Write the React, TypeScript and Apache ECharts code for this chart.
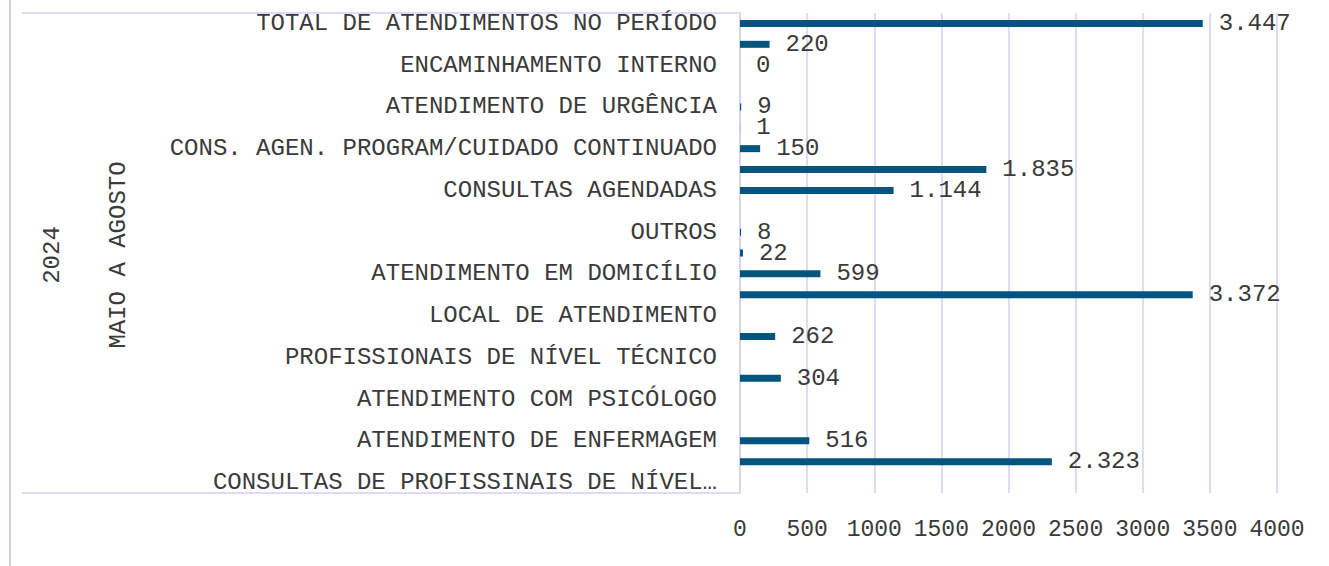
import React, { useEffect, useRef } from "react";
import * as echarts from "echarts";

const categories: string[] = [
  "TOTAL DE ATENDIMENTOS NO PERÍODO",
  "",
  "ENCAMINHAMENTO INTERNO",
  "",
  "ATENDIMENTO DE URGÊNCIA",
  "",
  "CONS. AGEN. PROGRAM/CUIDADO CONTINUADO",
  "",
  "CONSULTAS AGENDADAS",
  "",
  "OUTROS",
  "",
  "ATENDIMENTO EM DOMICÍLIO",
  "",
  "LOCAL DE ATENDIMENTO",
  "",
  "PROFISSIONAIS DE NÍVEL TÉCNICO",
  "",
  "ATENDIMENTO COM PSICÓLOGO",
  "",
  "ATENDIMENTO DE ENFERMAGEM",
  "",
  "CONSULTAS DE PROFISSINAIS DE NÍVEL SUPERIOR",
];

const values: (number | null)[] = [
  3447, 220, 0, null, 9, 1, 150, 1835, 1144, null, 8, 22, 599, 3372, null, 262,
  null, 304, null, null, 516, 2323, null,
];

const groupLabels = ["MAIO A AGOSTO", "2024"];

const X_MIN = 0;
const X_MAX = 4000;
const X_STEP = 500;

const FONT = "'Liberation Mono', 'Courier New', monospace";
const TEXT = "#3a3a3a";
const LINE = "#d3cfee";
const BAR = "#03547e";

function fmt(v: number): string {
  return String(v).replace(/\B(?=(\d{3})+(?!\d))/g, ".");
}

export default function App() {
  const ref = useRef<HTMLDivElement>(null);
  useEffect(() => {
    if (!ref.current) return;
    const chart = echarts.init(ref.current, undefined, { renderer: "svg" });
    chart.setOption({
      animation: false,
      backgroundColor: "#ffffff",
      grid: { left: 740, right: 52, top: 13, bottom: 73, containLabel: false },
      xAxis: {
        type: "value",
        min: X_MIN,
        max: X_MAX,
        interval: X_STEP,
        axisLine: { show: false },
        axisTick: { show: false },
        splitLine: { show: true, lineStyle: { color: LINE, width: 1.5 } },
        axisLabel: {
          fontFamily: FONT,
          fontSize: 23,
          color: TEXT,
          margin: 25,
          hideOverlap: false,
          formatter: (v: number) => String(v),
        },
      },
      yAxis: {
        type: "category",
        inverse: true,
        data: categories,
        axisLine: { show: true, lineStyle: { color: LINE, width: 1.5 } },
        axisTick: { show: false },
        splitLine: { show: false },
        axisLabel: {
          interval: 0,
          fontFamily: FONT,
          fontSize: 24,
          color: TEXT,
          margin: 23,
          formatter: (name: string) =>
            name.length > 40 ? name.slice(0, 34) + "…" : name,
        },
      },
      series: [
        {
          type: "bar",
          data: values,
          barWidth: 7,
          itemStyle: { color: BAR },
          label: {
            show: true,
            position: "right",
            distance: 16,
            fontFamily: FONT,
            fontSize: 24,
            color: TEXT,
            formatter: (p: any) =>
              p.value === null || p.value === undefined ? "" : fmt(p.value),
          },
        },
      ],
      graphic: [
        {
          type: "line",
          shape: { x1: 10, y1: 0, x2: 10, y2: 566 },
          style: { stroke: LINE, lineWidth: 2 },
          silent: true,
        },
        {
          type: "line",
          shape: { x1: 22, y1: 13, x2: 740, y2: 13 },
          style: { stroke: LINE, lineWidth: 1.5 },
          silent: true,
        },
        {
          type: "line",
          shape: { x1: 22, y1: 493, x2: 740, y2: 493 },
          style: { stroke: LINE, lineWidth: 1.5 },
          silent: true,
        },
        {
          type: "text",
          x: 118,
          y: 255,
          rotation: Math.PI / 2,
          style: {
            text: groupLabels[0],
            font: `24px ${FONT}`,
            fill: TEXT,
            textAlign: "center",
            textVerticalAlign: "middle",
          },
          silent: true,
        },
        {
          type: "text",
          x: 52,
          y: 255,
          rotation: Math.PI / 2,
          style: {
            text: groupLabels[1],
            font: `24px ${FONT}`,
            fill: TEXT,
            textAlign: "center",
            textVerticalAlign: "middle",
          },
          silent: true,
        },
      ],
    });
    return () => chart.dispose();
  }, []);
  return (
    <div
      ref={ref}
      style={{ position: "fixed", left: 0, top: 0, width: 1329, height: 566 }}
    />
  );
}
